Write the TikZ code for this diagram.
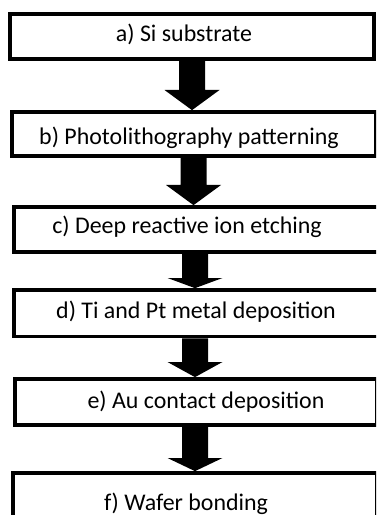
\documentclass[tikz,border=0pt]{standalone}
\usepackage{fontspec}
\setmainfont{Carlito}
\newcommand\stepArrow[4]{%
  \fill[arrowfill] (#3-13,0 |- #1.south) -- (#3-13,#4) -- (#3-27.5,#4)
    -- (#3,0 |- #2.north) -- (#3+27.5,#4) -- (#3+13,#4)
    -- (#3+13,0 |- #1.south) -- cycle;}
\begin{document}
\begin{tikzpicture}[x=1bp,y=-1bp,
  stepbox/.style={draw=black, line width=3.7bp, fill=white, inner sep=0pt},
  steptext/.style={anchor=base, inner sep=0pt, font=\fontsize{24}{29}\selectfont},
  arrowfill/.style={fill=black}]
\useasboundingbox (0,0) rectangle (376,515);
\clip (0,0) rectangle (376,515);
\fill[white] (0,0) rectangle (376,515);
% boxes
\node[stepbox, minimum width=364bp, minimum height=45bp] (a) at (192,36.5) {};
\node[stepbox, minimum width=364bp, minimum height=44bp] (b) at (194,134) {};
\node[stepbox, minimum width=378bp, minimum height=45bp] (c) at (203,229.5) {};
\node[stepbox, minimum width=378bp, minimum height=46.5bp] (d) at (203,313.25) {};
\node[stepbox, minimum width=362bp, minimum height=46bp] (e) at (196,402) {};
\node[stepbox, minimum width=364bp, minimum height=52bp] (f) at (195,499) {};
% texts
\node[steptext] (ta) at (184,42) {a) Si substrate};
\node[steptext] (tb) at (189,145) {b) Photolithography patterning};
\node[steptext] (tc) at (187,233) {c) Deep reactive ion etching};
\node[steptext] (td) at (196,318) {d) Ti and Pt metal deposition};
\node[steptext] (te) at (206,408) {e) Au contact deposition};
\node[steptext] (tf) at (186,510) {f) Wafer bonding};
% arrows
\stepArrow{a}{b}{192}{90}
\stepArrow{b}{c}{193.5}{185}
\stepArrow{c}{d}{195}{278}
\stepArrow{d}{e}{195}{362}
\stepArrow{e}{f}{195}{458}
\end{tikzpicture}
\end{document}
